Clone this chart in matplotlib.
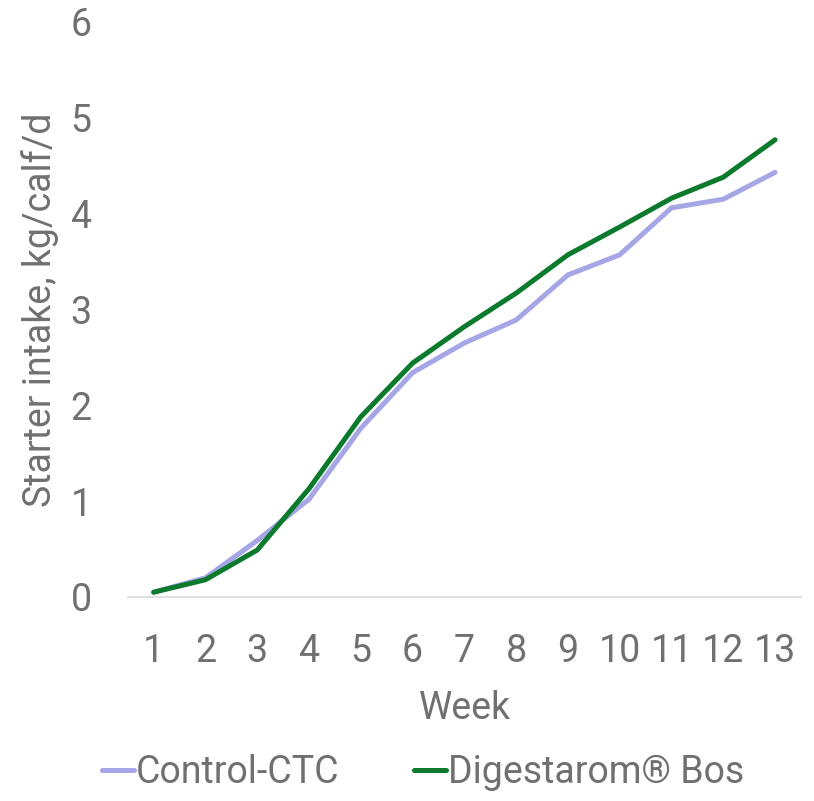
import matplotlib
matplotlib.use("Agg")
from matplotlib import pyplot as plt

plt.rcParams['font.family'] = ['Roboto', 'DejaVu Sans']

weeks = list(range(1, 14))
control_ctc = [0.05, 0.20, 0.59, 1.02, 1.76, 2.34, 2.65, 2.89, 3.36, 3.57, 4.06, 4.15, 4.43]
digestarom = [0.05, 0.18, 0.49, 1.13, 1.88, 2.44, 2.82, 3.17, 3.57, 3.86, 4.16, 4.38, 4.77]

grey = '#707070'

fig = plt.figure(figsize=(8.14, 8.01), dpi=100)
ax = fig.add_axes([0.157, 0.2547, 0.827, 0.718])

ax.plot(weeks, control_ctc, color='#a6a6e6', lw=3.6, label='Control-CTC', solid_capstyle='round')
ax.plot(weeks, digestarom, color='#0b7a2c', lw=3.6, label='Digestarom® Bos', solid_capstyle='round')

ax.set_xlim(0.5, 13.5)
ax.set_ylim(0, 6)
ax.set_xticks(weeks)
ax.set_yticks(range(0, 7))
for s in ['top', 'right', 'left']:
    ax.spines[s].set_visible(False)
ax.spines['bottom'].set_color('#d9d9d9')
ax.spines['bottom'].set_linewidth(1.2)
ax.tick_params(length=0, labelsize=27, colors=grey, pad=26)
ax.tick_params(axis='y', pad=26)

ax.set_xlabel('Week', fontsize=27, color=grey, labelpad=14)
ax.set_ylabel('Starter intake, kg/calf/d', fontsize=27, color=grey, labelpad=8)

fig.legend(loc='lower center', bbox_to_anchor=(0.52, -0.03), ncol=2, frameon=False,
           fontsize=27, labelcolor=grey, handlelength=0.85, handletextpad=0.05,
           columnspacing=2.0)

fig.savefig('out.png', dpi=100)
